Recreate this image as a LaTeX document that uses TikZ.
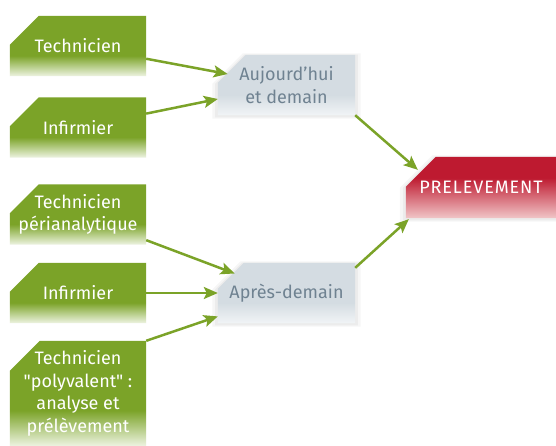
\documentclass[tikz,border=0pt]{standalone}
\usepackage{fontspec}
\setmainfont{Fira Sans}[Ligatures=TeXOff]
\usetikzlibrary{arrows.meta,shadows}
\definecolor{grn}{HTML}{7BA328}
\definecolor{grnlt}{HTML}{EEF4E2}
\definecolor{gry}{HTML}{D4DCE2}
\definecolor{grylt}{HTML}{F1F4F6}
\definecolor{gtxt}{HTML}{6F8291}
\definecolor{rd}{HTML}{BE1A30}
\definecolor{rdlt}{HTML}{F1C6C8}
\pgfdeclareverticalshading{greenfade}{100bp}{color(0bp)=(grnlt); color(25bp)=(grnlt); color(42bp)=(grn); color(100bp)=(grn)}
\pgfdeclareverticalshading{grayfade}{100bp}{color(0bp)=(grylt); color(25bp)=(grylt); color(42bp)=(gry); color(100bp)=(gry)}
\pgfdeclareverticalshading{redfade}{100bp}{color(0bp)=(rdlt); color(25bp)=(rdlt); color(58bp)=(rd); color(100bp)=(rd)}
\pgfdeclarelayer{bg}
\pgfsetlayers{bg,main}
\tikzset{
  basebox/.style={rectangle, inner sep=0pt, align=center, font=\fontsize{18}{22.5}\selectfont},
  softshadow/.style={general shadow={fill=black, opacity=0.035, shadow scale=1.08, shadow yshift=-1pt},
    general shadow={fill=black, opacity=0.04, shadow scale=1.04, shadow yshift=-1pt}},
  gbox/.style={basebox, text=white, minimum width=136pt, minimum height=60pt},
  sbox/.style={basebox, text=gtxt, minimum width=137pt, minimum height=60pt},
  rbox/.style={basebox, text=white, minimum width=150pt, minimum height=61pt},
  arr/.style={draw=grn, line width=2.5pt, -{Stealth[length=14pt,width=12pt,inset=3pt]}}
}
\newcommand{\chshape}[3]{% node, shading, chamfer
  \shade[shading=#2] ([yshift=-#3]#1.north west) -- ([xshift=#3]#1.north west) -- (#1.north east)
    -- (#1.south east) -- (#1.south west) -- cycle;}
\newcommand{\chshapeshadow}[3]{%
  \shade[shading=#2, softshadow] ([yshift=-#3]#1.north west) -- ([xshift=#3]#1.north west) -- (#1.north east)
    -- (#1.south east) -- (#1.south west) -- cycle;}
\begin{document}
\begin{tikzpicture}[x=1pt,y=-1pt]
\useasboundingbox (0,0) rectangle (556,446);
\node[gbox] (t1) at (78,46) {Technicien};
\node[gbox] (i1) at (78,127.5) {Infirmier};
\node[gbox] (tp) at (78,214.5) {Technicien\\périanalytique};
\node[gbox] (i2) at (78,293) {Infirmier};
\node[gbox, minimum height=105pt] (tv) at (78,393.5) {Technicien\\"polyvalent" :\\analyse et\\prélèvement};
\node[sbox] (auj) at (286.5,85) {Aujourd’hui\\et demain};
\node[sbox] (apr) at (286.5,293) {Après-demain};
\node[rbox, font={\fontsize{18}{22.5}\selectfont\addfontfeature{LetterSpace=5}}] (prel) at (481,187.5) {PRELEVEMENT};
\begin{pgfonlayer}{bg}
  \fill[white] (0,0) rectangle (556,446);
  \chshape{t1}{greenfade}{29pt}
  \chshape{i1}{greenfade}{29pt}
  \chshape{tp}{greenfade}{29pt}
  \chshape{i2}{greenfade}{29pt}
  \chshape{tv}{greenfade}{30pt}
  \chshapeshadow{auj}{grayfade}{28pt}
  \chshapeshadow{apr}{grayfade}{26pt}
  \chshapeshadow{prel}{redfade}{30pt}
\end{pgfonlayer}
\draw[arr, shorten >=-10pt] (t1) -- (auj);
\draw[arr] (i1) -- (auj);
\draw[arr, shorten >=-18pt] (tp) -- (apr);
\draw[arr] (i2) -- (apr);
\draw[arr] (tv.north east) -- (apr);
\draw[arr] (auj.south east) -- ([xshift=12pt,yshift=-13pt]prel.north west);
\draw[arr] ([yshift=-5pt]apr.north east) -- ([xshift=3pt,yshift=-1pt]prel.south west);
\end{tikzpicture}
\end{document}
